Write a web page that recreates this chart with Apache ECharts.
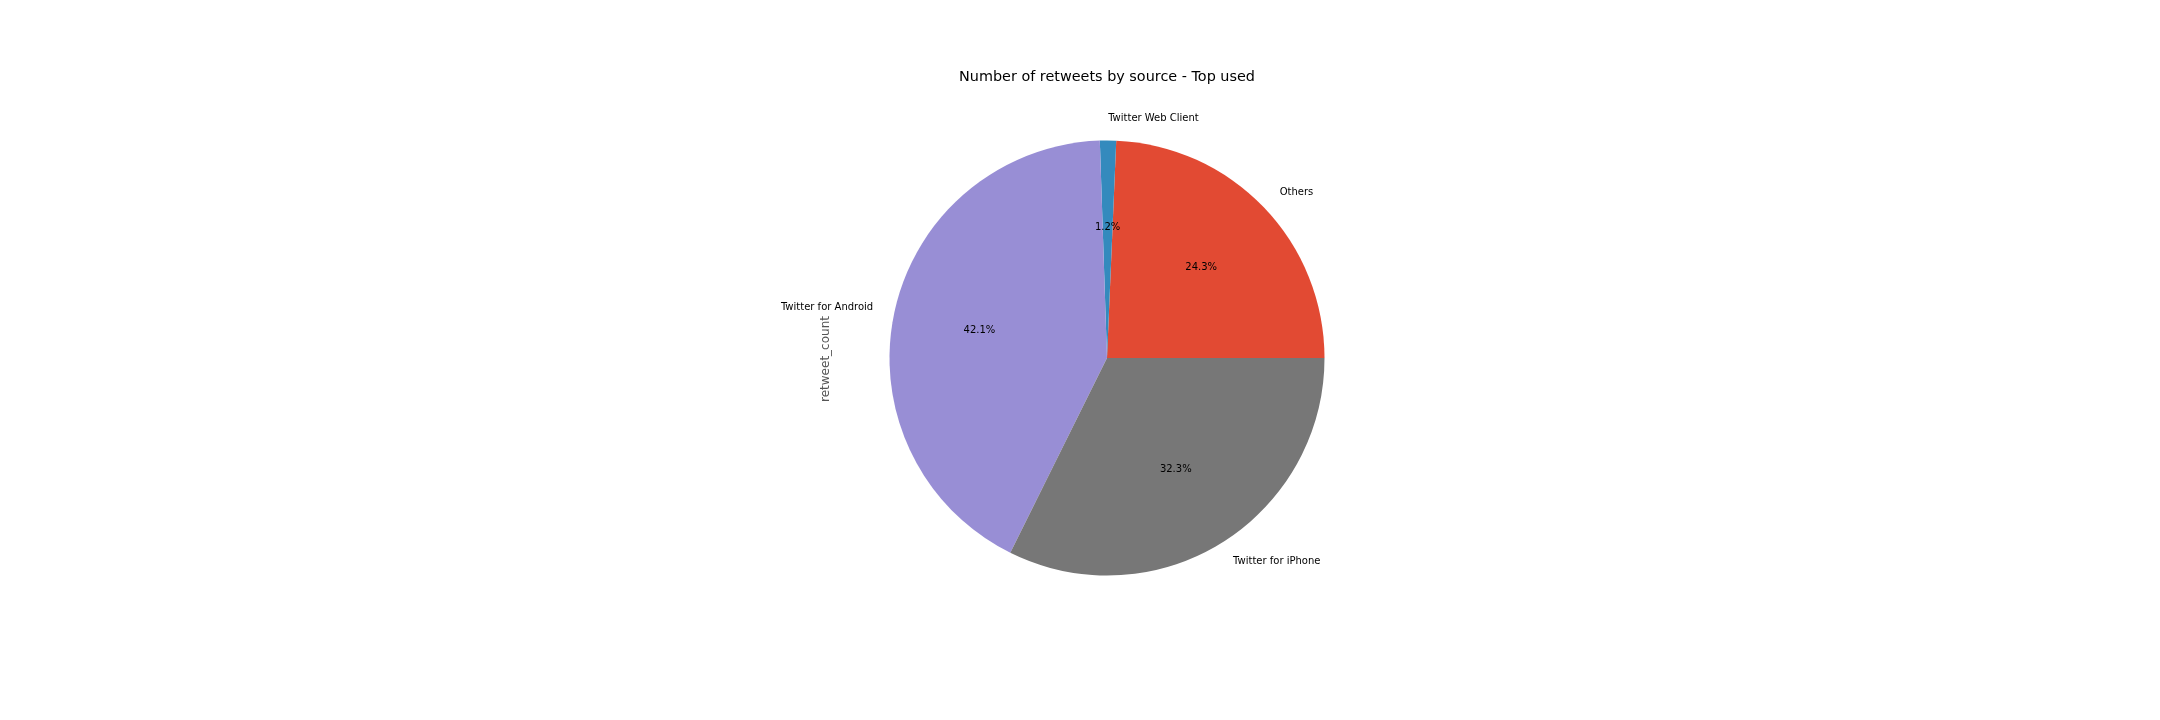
<!DOCTYPE html>
<html>
<head>
<meta charset="utf-8">
<script src="https://cdn.jsdelivr.net/npm/echarts@6/dist/echarts.min.js"></script>
<style>
html,body{margin:0;padding:0;background:#fff;}
#chart{width:2160px;height:720px;}
</style>
</head>
<body>
<div id="chart"></div>
<script>
const categories = ['Others', 'Twitter Web Client', 'Twitter for Android', 'Twitter for iPhone'];
const retweetShares = [24.3, 1.2, 42.1, 32.3];
const sliceColors = ['#E24A33', '#348ABD', '#988ED5', '#777777'];
const titleText = 'Number of retweets by source - Top used';
const yLabelText = 'retweet_count';

const FONT = 'DejaVu Sans';
const CX = 1107, CY = 358, R = 217.5;
const total = retweetShares.reduce((a, b) => a + b, 0);

const pieData = categories.map((c, i) => ({ name: c, value: retweetShares[i], itemStyle: { color: sliceColors[i] } }));
const pctData = categories.map((c, i) => ({ name: c, value: retweetShares[i] }));

const chart = echarts.init(document.getElementById('chart'), null, { renderer: 'canvas' });
chart.setOption({
  backgroundColor: '#ffffff',
  animation: false,
  graphic: [
    { type: 'text', x: CX, y: 77, style: { text: titleText, x: 0, y: 0, align: 'center', verticalAlign: 'middle', font: '14.4px "' + FONT + '"', fill: '#000000' } },
    { type: 'text', x: 826, y: 359, rotation: Math.PI / 2, style: { text: yLabelText, x: 0, y: 0, align: 'center', verticalAlign: 'middle', font: '12px "' + FONT + '"', fill: '#555555' } }
  ],
  series: [
    {
      type: 'pie',
      center: [CX, CY],
      radius: [0, R],
      startAngle: 0,
      clockwise: false,
      avoidLabelOverlap: false,
      silent: true,
      data: pieData,
      label: { show: true, position: 'outside', formatter: '{b}', fontFamily: FONT, fontSize: 10, color: '#000000', distanceToLabelLine: 0, padding: [7, 0, 0, 0] },
      labelLine: { show: false, length: R * 0.1, length2: 0 },
      emphasis: { disabled: true }
    },
    {
      type: 'pie',
      center: [CX, CY],
      radius: [0, R * 1.2 - 6],
      startAngle: 0,
      clockwise: false,
      avoidLabelOverlap: false,
      silent: true,
      data: pctData,
      itemStyle: { color: 'rgba(0,0,0,0)' },
      label: { show: true, position: 'inside', formatter: p => (p.value / total * 100).toFixed(1) + '%', fontFamily: FONT, fontSize: 10, color: '#000000', padding: [5, 0, 0, 0] },
      labelLine: { show: false },
      emphasis: { disabled: true },
      z: 5
    }
  ]
});
</script>
</body>
</html>
